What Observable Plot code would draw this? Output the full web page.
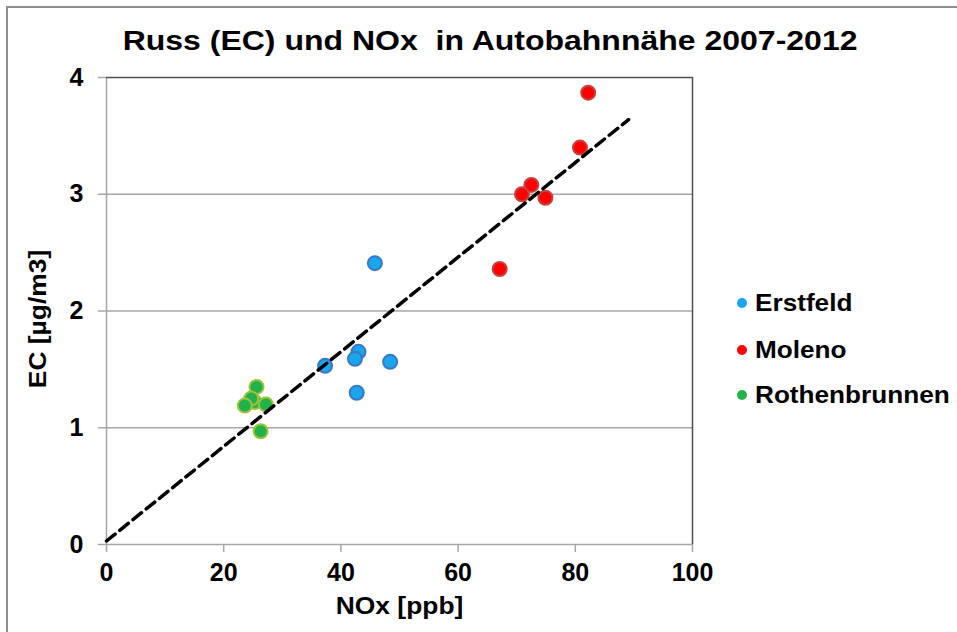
<!DOCTYPE html>
<html>
<head>
<meta charset="utf-8">
<script src="https://cdn.jsdelivr.net/npm/d3@7"></script>
<script src="https://cdn.jsdelivr.net/npm/@observablehq/plot@0.6"></script>
<style>
  html, body { margin: 0; padding: 0; background: #fff; overflow: hidden; }
  #wrap { position: relative; width: 957px; height: 632px; overflow: hidden; font-family: "Liberation Sans", Arial, sans-serif; font-weight: bold; color: #000; }
  #frame { position: absolute; left: 6px; top: 6px; width: 1000px; height: 700px; border: 2px solid #8f8f8f; box-sizing: border-box; }
  #title { position: absolute; left: 0; top: 28px; width: 980px; text-align: center; font-size: 27px; line-height: 27px; white-space: pre; }
  #title span { display: inline-block; transform: scaleX(1.185); transform-origin: center; }
  #chart { position: absolute; left: 0; top: 60px; }
  .leg { position: absolute; left: 737px; font-size: 24px; line-height: 24px; white-space: pre; }
  .leg .dot { position: absolute; left: 0; top: 6.7px; width: 10px; height: 10px; border-radius: 50%; }
  .leg .lbl { position: absolute; left: 18px; top: 0; display: inline-block; transform: scaleX(1.09); transform-origin: left center; }
</style>
</head>
<body>
<div id="wrap">
  <div id="frame"></div>
  <div id="title"><span></span></div>
  <div id="chart"></div>
  <div id="legend"></div>
</div>
<script>
// ---- data ----
const titleText = "Russ (EC) und NOx  in Autobahnnähe 2007-2012";
const xLabel = "NOx [ppb]";
const yLabel = "EC [µg/m3]";
const stations = ["Erstfeld", "Moleno", "Rothenbrunnen"];
const fillColors = ["#1aa6ec", "#ff0000", "#22b24c"];
const strokeColors = ["#3a78c4", "#c8403c", "#9cc23c"];

const erstfeldNOx = [45.8, 43.0, 42.4, 37.3, 48.4, 42.7];
const erstfeldEC  = [2.41, 1.65, 1.59, 1.53, 1.565, 1.30];
const molenoNOx   = [82.2, 80.8, 72.5, 70.9, 74.9, 67.1];
const molenoEC    = [3.87, 3.40, 3.08, 3.00, 2.97, 2.36];
const rothNOx     = [25.6, 25.3, 24.7, 23.6, 27.2, 26.3];
const rothEC      = [1.35, 1.22, 1.25, 1.19, 1.20, 0.97];

const trendNOx = [0, 89.1];
const trendEC  = [0.03, 3.64];

const xTicks = [0, 20, 40, 60, 80, 100];
const yTicks = [0, 1, 2, 3, 4];
const gridY = [1, 2, 3];

// ---- build tables ----
const series = [
  [erstfeldNOx, erstfeldEC],
  [molenoNOx, molenoEC],
  [rothNOx, rothEC]
];
const points = [];
series.forEach(([xs, ys], si) => xs.forEach((x, i) => points.push({station: stations[si], nox: x, ec: ys[i], si})));
const trend = trendNOx.map((x, i) => ({nox: x, ec: trendEC[i]}));

document.querySelector("#title span").textContent = titleText;

const gridColor = "#a6a6a6";
const frameColor = "#505050";

const plot = Plot.plot({
  width: 957,
  height: 572,
  marginTop: 17,
  marginBottom: 88,
  marginLeft: 106,
  marginRight: 265,
  style: {fontFamily: '"Liberation Sans", Arial, sans-serif', fontSize: "25px", fontWeight: "bold", color: "#000", background: "transparent", overflow: "visible"},
  x: {domain: [0, 100]},
  y: {domain: [0, 4]},
  marks: [
    Plot.ruleY(gridY, {stroke: gridColor, strokeWidth: 1.5}),
    Plot.ruleX([0], {stroke: gridColor, strokeWidth: 1.5}),
    Plot.ruleY([0], {stroke: gridColor, strokeWidth: 1.5}),
    Plot.ruleY([4], {stroke: frameColor, strokeWidth: 1.5}),
    Plot.ruleX([100], {stroke: frameColor, strokeWidth: 1.5}),
    Plot.axisX({ticks: xTicks, tickSize: 8, tickPadding: 11, stroke: gridColor, strokeWidth: 1.5, fill: "#000", fontSize: 25,
      tickFormat: d => String(d), label: xLabel, labelAnchor: "center", labelOffset: 69, labelArrow: "none"}),
    Plot.axisY({ticks: yTicks, tickSize: 8, tickPadding: 15, stroke: gridColor, strokeWidth: 1.5, fill: "#000", fontSize: 25,
      tickFormat: d => String(d), label: yLabel, labelAnchor: "center", labelOffset: 78, labelArrow: "none"}),
    Plot.dot(points, {x: "nox", y: "ec", r: 7, fill: d => fillColors[d.si], stroke: d => strokeColors[d.si], strokeWidth: 2}),
    Plot.line(trend, {x: "nox", y: "ec", stroke: "#000", strokeWidth: 3.5, strokeDasharray: "11,6"})
  ]
});
document.getElementById("chart").appendChild(plot);

// stretch axis labels slightly along their direction like the original
for (const t of plot.querySelectorAll('g[aria-label="x-axis label"] text, g[aria-label="y-axis label"] text')) {
  t.setAttribute("font-size", 24);
  t.style.fontSize = "24px";
  const L = t.getComputedTextLength();
  t.setAttribute("textLength", L * 1.1);
  t.setAttribute("lengthAdjust", "spacingAndGlyphs");
}
for (const t of plot.querySelectorAll('g[aria-label="y-axis label"] text')) {
  t.setAttribute("dx", -8);
}

// legend
const legendCenters = [303, 350, 395];
const legend = document.getElementById("legend");
stations.forEach((s, i) => {
  const item = document.createElement("div");
  item.className = "leg";
  item.style.top = (legendCenters[i] - 11.7) + "px";
  const dot = document.createElement("span");
  dot.className = "dot";
  dot.style.background = fillColors[i];
  const lbl = document.createElement("span");
  lbl.className = "lbl";
  lbl.textContent = s;
  item.appendChild(dot);
  item.appendChild(lbl);
  legend.appendChild(item);
});
</script>
</body>
</html>
